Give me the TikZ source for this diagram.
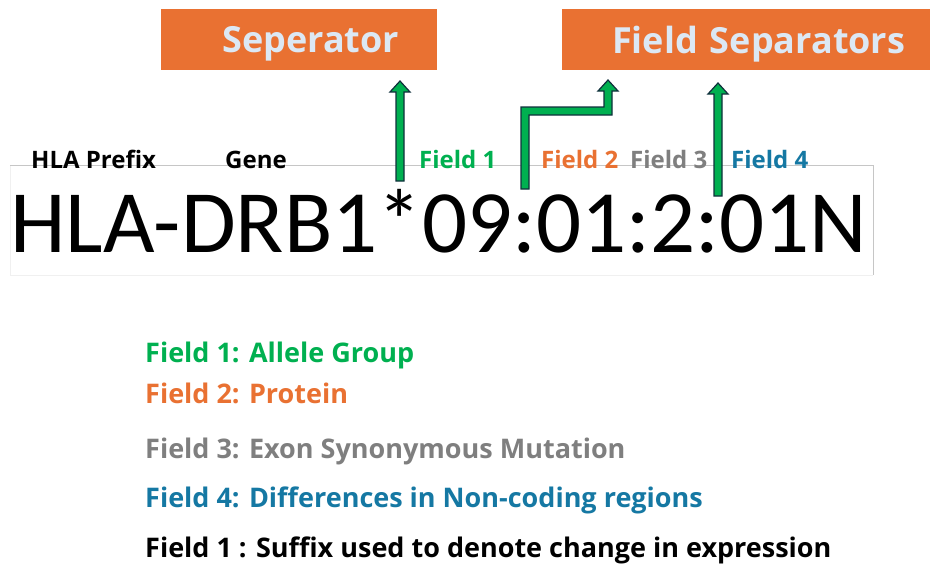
\documentclass[tikz,border=0pt]{standalone}
\usepackage{fontspec}
\usepackage{tikz}
\newfontfamily\labelfont{Open Sans}
\newfontfamily\allelefont{Carlito}
\definecolor{boxorange}{RGB}{233,113,50}
\definecolor{boxtext}{RGB}{220,232,244}
\definecolor{fieldgreen}{RGB}{0,176,80}
\definecolor{fieldorange}{RGB}{233,113,50}
\definecolor{fieldgray}{RGB}{127,127,127}
\definecolor{fieldblue}{RGB}{21,120,163}
\definecolor{arrowline}{RGB}{16,48,60}

\begin{document}
\begin{tikzpicture}[x=1pt, y=-1pt,
        sepbox/.style={fill=boxorange, anchor=north west, minimum height=61pt, inner xsep=0pt, align=left,
            text depth=0pt, text=boxtext, font=\labelfont\bfseries\fontsize{36}{38}\selectfont},
        fieldlabel/.style={anchor=base west, inner sep=0pt, font=\labelfont\bfseries\fontsize{24}{26}\selectfont},
        legendline/.style={anchor=base west, inner sep=0pt, font=\labelfont\bfseries\fontsize{27}{30}\selectfont},
        blockarrow/.style={fill=fieldgreen, draw=arrowline, line width=1.2pt, line join=miter}]
        \useasboundingbox (0,0) rectangle (930,563);
        \fill [white] (0,0) rectangle (930,563);
        \node [sepbox, text width=276pt] (sepbox) at (161,9) {\hspace*{61pt}Seperator};
        \node [sepbox, text width=368pt] (fieldbox) at (562,9) {\hspace*{50pt}Field Separators};
        \draw [gray!12, line width=0.6pt] (10,165) -- (10,275) -- (873,275);
        \draw [gray!45, line width=0.6pt] (10,165) -- (873,165) -- (873,275);
        \node [anchor=base west, inner sep=0pt, font=\allelefont\fontsize{89}{90}\selectfont] (allele) at (10,252)
            {HLA-DRB1*09:01:2:01N};
        \node [fieldlabel] (prefix) at (31,168) {HLA Prefix};
        \node [fieldlabel] (gene) at (225,168) {Gene};
        \node [fieldlabel, text=fieldgreen] (f1) at (419,168) {Field 1};
        \node [fieldlabel, text=fieldorange] (f2) at (541,168) {Field 2};
        \node [fieldlabel, text=fieldgray] (f3) at (630,168) {Field 3};
        \node [fieldlabel, text=fieldblue] (f4) at (731,168) {Field 4};
        \coordinate (star) at (400,181);
        \coordinate (colon1) at (525,189);
        \coordinate (colon3) at (718,196);
        \filldraw [blockarrow] (star) ++(-4,0) -- ++(0,-89) -- ++(-6,0) -- ++(10,-11) -- ++(10,11)
            -- ++(-6,0) -- ++(0,89) -- cycle;
        \filldraw [blockarrow] (colon1) ++(-4,0) -- ++(0,-82) -- ++(83,0) -- ++(0,-16) -- ++(-6,0)
            -- ++(10,-11) -- ++(10,11) -- ++(-6,0) -- ++(0,24) -- ++(-83,0) -- ++(0,74) -- cycle;
        \filldraw [blockarrow] (colon3) ++(-4,0) -- ++(0,-102) -- ++(-6,0) -- ++(10,-11) -- ++(10,11)
            -- ++(-6,0) -- ++(0,102) -- cycle;
        \node [legendline, text=fieldgreen] (l1) at (145,362) {Field 1: Allele Group};
        \node [legendline, text=fieldorange] (l2) at (145,403) {Field 2: Protein};
        \node [legendline, text=fieldgray] (l3) at (145,458) {Field 3: Exon Synonymous Mutation};
        \node [legendline, text=fieldblue] (l4) at (145,507) {Field 4: Differences in Non-coding regions};
        \node [legendline, text=black] (l5) at (145,557) {Field 1 : Suffix used to denote change in expression};
    \end{tikzpicture}
\end{document}
